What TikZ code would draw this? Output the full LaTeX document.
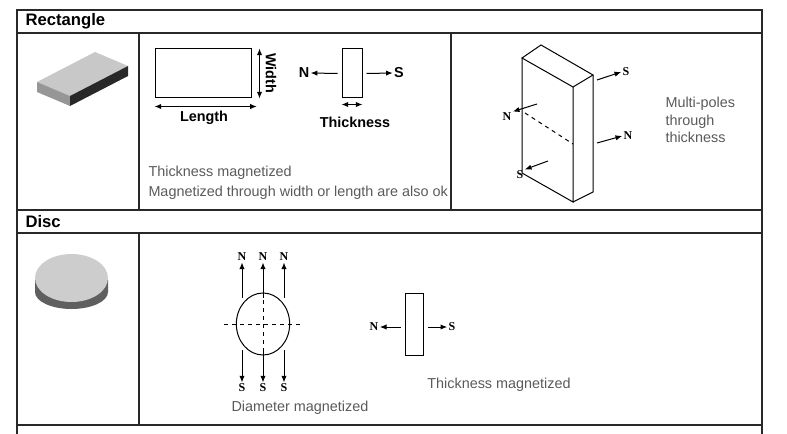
\documentclass[tikz,border=0pt]{standalone}
\usepackage{fontspec}
\setmainfont{Liberation Sans}
\newfontfamily\poleFont{Liberation Serif}
\usetikzlibrary{arrows.meta,shapes.geometric}
\tikzset{every picture/.style={line width=0.75pt}}
\tikzset{
	grid line/.style={line width=1pt, color={rgb, 255:red, 40; green, 40; blue, 40 }},
	pole/.style={font=\poleFont\bfseries\small, inner sep=0.75pt},
	dim label/.style={font=\bfseries\fontsize{10.8}{13}\selectfont, inner sep=0.75pt},
	note/.style={font=\fontsize{10.8}{13}\selectfont, color={rgb, 255:red, 90; green, 90; blue, 90 }, inner sep=0.75pt},
	head/.style={font=\bfseries\fontsize{12.5}{15}\selectfont, anchor=west, inner sep=0.75pt},
	tip/.style={-{Latex[length=5pt,width=4pt]}},
	both tip/.style={{Latex[length=5pt,width=4pt]}-{Latex[length=5pt,width=4pt]}}}

\begin{document}
\begin{tikzpicture}[x=0.75pt,y=0.75pt,yscale=-1,xscale=1]
	\useasboundingbox (0,0) rectangle (787,434);
	\clip (0,0) rectangle (787,434);
	
	%Table grid
	\draw [grid line] (17,10) rectangle (762,440) ;
	\draw [grid line] (17,33) -- (762,33) ;
	\draw [grid line] (17,210) -- (762,210) ;
	\draw [grid line] (17,233) -- (762,233) ;
	\draw [grid line] (17,425) -- (762,425) ;
	\draw [grid line] (139,33) -- (139,210) ;
	\draw [grid line] (451,33) -- (451,210) ;
	\draw [grid line] (139,233) -- (139,425) ;
	
	% Text Node
	\node [head] (hRect) at (24,21) {Rectangle};
	\node [head] (hDisc) at (24,222) {Disc};
	
	%Rectangle block picture
	\fill [color={rgb, 255:red, 200; green, 200; blue, 200 }] (37,82) -- (95,52) -- (128,66) -- (70,96) -- cycle ;
	\fill [color={rgb, 255:red, 150; green, 150; blue, 150 }] (37,82) -- (70,96) -- (70,106) -- (37,92) -- cycle ;
	\fill [color={rgb, 255:red, 40; green, 40; blue, 40 }] (70,96) -- (128,66) -- (128,76) -- (70,106) -- cycle ;
	
	%Length / width rectangle
	\node [draw, minimum width=72pt, minimum height=36.75pt, inner sep=0pt] (plate) at (203,73.5) {};
	\draw [both tip] (plate.north east) ++(8,0) coordinate (wTop) -- (plate.south east -| wTop) coordinate (wBot) ;
	\node [dim label, rotate=-90] (wLbl) at (271,73) {Width};
	\draw [both tip] ([yshift=6pt]plate.south west) coordinate (lLeft) -- ([xshift=4pt,yshift=6pt]plate.south east) coordinate (lRight) ;
	\node [dim label] (lLbl) at (204,118) {Length};
	
	%Thickness magnet
	\node [draw, minimum width=15pt, minimum height=36.75pt, inner sep=0pt] (bar) at (352,73.5) {};
	\node [dim label] (nBar) at (304,73) {N};
	\node [dim label] (sBar) at (399,73) {S};
	\draw [tip] ([xshift=-3pt]bar.west) -- (nBar.east) ;
	\draw [tip] ([xshift=3pt]bar.east) -- (sBar.west) ;
	\draw [both tip] ([yshift=4.5pt]bar.south west) -- ([yshift=4.5pt]bar.south east) ;
	\node [dim label] (tLbl) at (355,122) {Thickness};
	
	% Text Node
	\node [note, anchor=west] (noteA) at (147,173) {Thickness magnetized};
	\node [note, anchor=west] (noteB) at (147,193) {Magnetized through width or length are also ok};
	
	%Multi-pole block
	\draw (522,58) -- (541,45) -- (593,75) -- (573,87) -- cycle ;
	\draw (522,58) -- (522,173) -- (573,202) -- (573,87) ;
	\draw (593,75) -- (593,192) -- (573,202) ;
	\draw [dashed] (525,113) -- (573,144) ;
	\node [pole] (sTop) at (626,72) {S};
	\node [pole] (nRight) at (628,136) {N};
	\node [pole] (nLeft) at (507,117) {N};
	\node [pole] (sLow) at (520,175) {S};
	\draw [tip] (597,80) -- (sTop.west) ;
	\draw [tip] (597,143) -- (nRight.west) ;
	\draw [tip] (537,104) -- (nLeft.north east) ;
	\draw [tip] (548,161) -- (sLow.north east) ;
	\node [note, anchor=west, align=left] (multi) at (664,120) {Multi-poles\\through\\thickness};
	
	%Disc picture
	\fill [color={rgb, 255:red, 95; green, 95; blue, 95 }] (35,280) -- (35,292) arc (180:0:36.5 and 17) -- (108,280) -- cycle ;
	\fill [color={rgb, 255:red, 205; green, 205; blue, 205 }] (71.5,278) ellipse (36.5 and 24) ;
	
	%Diameter magnetized
	\node [draw, ellipse, minimum width=40pt, minimum height=46.5pt, inner sep=0pt] (disc) at (263,324) {};
	\draw [dashed] (224,324) -- (303,324) ;
	\draw [dashed] (263,292) -- (263,355) ;
	\foreach \px/\nm in {242/a, 263/b, 284/c} {
		\node [pole] (n\nm) at (\px,257) {N};
		\node [pole] (s\nm) at (\px,388) {S};
		\draw [tip] (\px,298) -- (n\nm.south) ;
		\draw [tip] (\px,350) -- (s\nm.north) ;
	}
	\node [note] (diaLbl) at (300,408) {Diameter magnetized};
	
	%Thickness magnetized disc
	\node [draw, minimum width=13.5pt, minimum height=46pt, inner sep=0pt] (slab) at (414,324.5) {};
	\node [pole] (nSlab) at (374,327) {N};
	\node [pole] (sSlab) at (452,327) {S};
	\draw [tip] ([xshift=-3pt]slab.west |- nSlab) -- (nSlab.east) ;
	\draw [tip] ([xshift=3pt]slab.east |- sSlab) -- (sSlab.west) ;
	\node [note] (thLbl) at (499,385) {Thickness magnetized};
	
\end{tikzpicture}
\end{document}
